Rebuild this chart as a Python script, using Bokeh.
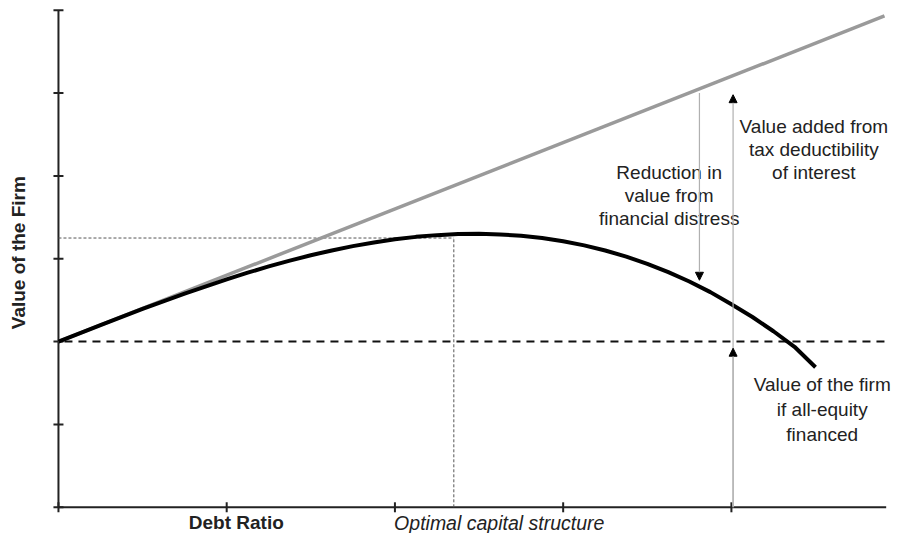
import math
from bokeh.plotting import figure
from bokeh.models import Range1d, Arrow, NormalHead
from bokeh.core.properties import value
from bokeh.embed import file_html
from bokeh.resources import INLINE

# ---- data (units: debt ratio ticks / value ticks) ----
x_ticks = [0, 1, 2, 3, 4]
y_ticks = [0, 1, 2, 3, 4, 5, 6]
x_axis_end = 4.92

# value if all-equity financed
equity_x = [0.0, 4.91]
equity_y = [2.0, 2.0]

# value with tax benefit of debt (grey line)
tax_x = [0.0, 4.91]
tax_y = [2.0, 5.93]

# actual value of the firm (black curve)
firm_x = [0.0, 0.25, 0.5, 0.75, 1.0, 1.125, 1.25, 1.375, 1.5, 1.625, 1.75, 1.875,
          2.0, 2.125, 2.25, 2.375, 2.5, 2.625, 2.75, 2.875, 3.0, 3.125, 3.25,
          3.375, 3.5, 3.625, 3.75, 3.875, 4.0, 4.125, 4.25, 4.375, 4.5]
firm_y = [2.0, 2.199, 2.394, 2.579, 2.751, 2.832, 2.907, 2.977, 3.042, 3.100,
          3.152, 3.197, 3.235, 3.264, 3.285, 3.298, 3.301, 3.294, 3.277, 3.250,
          3.211, 3.161, 3.099, 3.026, 2.939, 2.838, 2.725, 2.597, 2.45, 2.297,
          2.125, 1.937, 1.69]

# optimal capital structure guide
opt_x = 2.35
opt_y = 3.25

# arrows
reduction_x, reduction_top, reduction_tip = 3.81, 5.00, 2.74
added_x, added_tip, equity_tip = 4.01, 4.98, 1.92

FONT = "Liberation Sans"
INK = "#222222"

p = figure(width=893, height=533, output_backend="svg", toolbar_location=None,
           x_axis_location=None, y_axis_location=None, min_border=0,
           x_range=Range1d(-0.3445, 4.9635), y_range=Range1d(-0.3164, 6.117))
p.outline_line_color = None
p.grid.visible = False
p.background_fill_color = "white"

# axes
p.segment(x0=[0], y0=[0], x1=[0], y1=[y_ticks[-1]], line_color=INK, line_width=2)
p.segment(x0=[0], y0=[0], x1=[x_axis_end], y1=[0], line_color=INK, line_width=2)
p.scatter(x=[0] * len(y_ticks), y=y_ticks, marker="dash", size=10,
          line_color=INK, line_width=2)
p.scatter(x=x_ticks, y=[0] * len(x_ticks), marker="dash", size=10, angle=math.pi / 2,
          line_color=INK, line_width=2)

# guide lines for optimum
p.line(x=[0, opt_x], y=[opt_y, opt_y], line_color="#555555", line_width=1, line_dash="3 2")
p.line(x=[opt_x, opt_x], y=[0, opt_y], line_color="#555555", line_width=1, line_dash="3 2")

# all-equity dashed line
p.line(x=equity_x, y=equity_y, line_color="#111111", line_width=2, line_dash="8 6",
       line_dash_offset=8)

# tax line
p.line(x=tax_x, y=tax_y, line_color="#9a9a9a", line_width=3.5)

# firm value curve
p.line(x=firm_x, y=firm_y, line_color="black", line_width=4, line_join="round")

# arrows
arrow_color = "#b0b0b0"
for xs, ys, ye in [(reduction_x, reduction_top, reduction_tip),
                   (added_x, 0, added_tip),
                   (added_x, 0, equity_tip)]:
    p.add_layout(Arrow(end=NormalHead(size=8, fill_color="black", line_color="black"),
                       x_start=xs, y_start=ys, x_end=xs, y_end=ye,
                       line_color=arrow_color, line_width=1.2))

# annotation texts
p.text(x=[4.49], y=[4.32], text=["Value added from\ntax deductibility\nof interest"],
       text_align="center", text_baseline="middle", text_font=value(FONT),
       text_font_size="19px", text_line_height=1.1, text_color=INK)
p.text(x=[3.63], y=[3.76], text=["Reduction in\nvalue from\nfinancial distress"],
       text_align="center", text_baseline="middle", text_font=value(FONT),
       text_font_size="19px", text_line_height=1.1, text_color=INK)
p.text(x=[4.54], y=[1.18], text=["Value of the firm\nif all-equity\nfinanced"],
       text_align="center", text_baseline="middle", text_font=value(FONT),
       text_font_size="19px", text_line_height=1.2, text_color=INK)

# axis texts
p.text(x=[1.057], y=[-0.1875], text=["Debt Ratio"], text_align="center",
       text_baseline="middle", text_font=value(FONT), text_font_style="bold",
       text_font_size="19px", text_color=INK)
p.text(x=[2.62], y=[-0.1875], text=["Optimal capital structure"], text_align="center",
       text_baseline="middle", text_font=value(FONT), text_font_style="italic",
       text_font_size="19.5px", text_color=INK)
p.text(x=[-0.239], y=[3.105], text=["Value of  the Firm"], angle=math.pi / 2,
       text_align="center", text_baseline="middle", text_font=value(FONT),
       text_font_style="bold", text_font_size="19px", text_color=INK)

open("out.html", "w").write(file_html(p, INLINE))
